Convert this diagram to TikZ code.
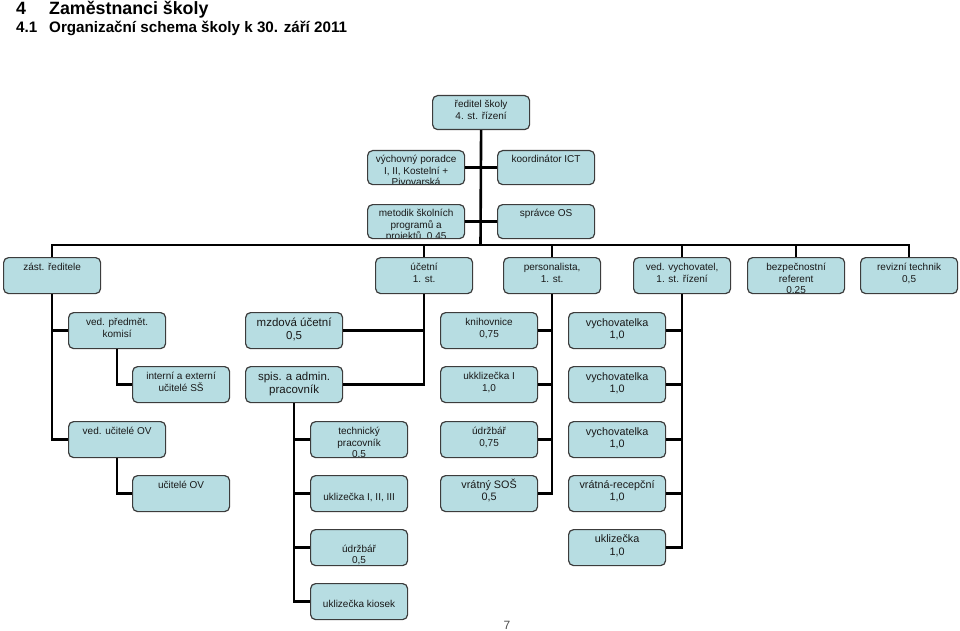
\documentclass[tikz,border=0pt]{standalone}
\usepackage{fontspec}
\setmainfont{Liberation Sans}
\definecolor{modra}{RGB}{183,221,226}
\definecolor{okraj}{RGB}{60,60,60}
\newcommand{\velke}{\fontsize{11.5}{13}\selectfont}
\newcommand{\stredni}{\fontsize{10.8}{12.4}\selectfont}
\newcommand{\karta}[4][13]{\node[karta, path picture={\node[popis] at ([yshift=-#1pt]path picture bounding box.north) {\parbox[t]{95pt}{\centering #4}};}] (#2) at (#3) {}}
\newcommand{\vetev}[2]{\draw[spoj] (#1) -- (#1 -| #2)}
\newcommand{\kmen}[2]{\draw[spoj] (#1) |- (#2)}
\tikzset{
	karta/.style={draw=okraj, line width=1.2pt, fill=modra, rounded corners=5pt,
		anchor=north west, minimum width=97pt, minimum height=36pt, inner sep=0pt},
	popis/.style={anchor=base, inner sep=0pt, font=\fontsize{10}{11.5}\selectfont, text=black!90},
	spoj/.style={line width=2.6pt, black},
	nadpis/.style={anchor=base west, inner sep=0pt, font=\bfseries\fontsize{17.8}{21}\selectfont},
	podnadpis/.style={anchor=base west, inner sep=0pt, font=\bfseries\fontsize{15.2}{18}\selectfont}
}

\begin{document}
\begin{tikzpicture}[x=1pt, y=-1pt]
	\useasboundingbox (0,0) rectangle (960,631);
%Headings
	\node[nadpis] (cislo) at (16,15) {4};
	\node[nadpis] (nazev) at (49,15) {Zaměstnanci školy};
	\node[podnadpis] (cislo2) at (16,33) {4.1};
	\node[podnadpis] (nazev2) at (49,33) {Organizační schema školy k 30. září 2011};
%Head of school
	\begin{scope}[karta/.append style={minimum height=34pt}]
	\karta[12]{reditel}{432,95}{ředitel školy\\4. st. řízení};
	\karta[12]{poradce}{367,150}{výchovný poradce\\I, II, Kostelní +\\Pivovarská};
	\karta[12]{koordinator}{497,150}{koordinátor ICT};
	\karta[12]{metodik}{367,204}{metodik školních\\programů a\\projektů, 0,45};
	\karta[12]{spravce}{497,204}{správce OS};
	\end{scope}
	\coordinate (bus) at (480.5,245);
%First row
	\karta{zast}{3,257}{zást. ředitele};
	\karta{ucetni}{375,257}{účetní\\1. st.};
	\karta{personalista}{503,257}{personalista,\\1. st.};
	\karta{vedvych}{633,257}{ved. vychovatel,\\1. st. řízení};
	\karta[13]{bezpecnost}{747,257}{bezpečnostní\\referent\\0,25};
	\karta{revizni}{860,257}{revizní technik\\0,5};
%Second row
	\karta{predmet}{68,312}{ved. předmět.\\komisí};
	\karta[14]{mzdova}{245,312}{\velke mzdová účetní\\0,5};
	\karta{knihovnice}{440,312}{knihovnice\\0,75};
	\karta[13.5]{vychovatelka1}{568,312}{\stredni vychovatelka\\1,0};
%Third row
	\karta{interni}{132,366}{interní a externí\\učitelé SŠ};
	\karta[13.5]{spis}{245,366}{\velke spis. a admin.\\pracovník};
	\karta{uklizecka1}{440,366}{ukklizečka I\\1,0};
	\karta[13.5]{vychovatelka2}{568,366}{\stredni vychovatelka\\1,0};
%Fourth row
	\karta{veducitele}{68,421}{ved. učitelé OV};
	\karta[13]{technicky}{310,421}{technický\\pracovník\\0,5};
	\karta{udrzbar1}{440,421}{údržbář\\0,75};
	\karta[13.5]{vychovatelka3}{568,421}{\stredni vychovatelka\\1,0};
%Fifth row
	\karta{ucitele}{132,475}{učitelé OV};
	\karta[24.5]{uklizecky}{310,475}{uklizečka I, II, III};
	\karta[12.5]{vratny}{440,475}{\stredni vrátný SOŠ\\0,5};
	\karta[12.5]{recepcni}{568,475}{\stredni vrátná-recepční\\1,0};
%Last rows
	\karta[22.5]{udrzbar2}{310,529}{údržbář\\0,5};
	\karta[13]{uklizecka2}{568,529}{\stredni uklizečka\\1,0};
	\karta[24]{kiosek}{310,583}{uklizečka kiosek};
%Connectors at the top
	\draw[spoj] (reditel.south) -- (bus);
	\vetev{poradce.east}{bus};
	\vetev{koordinator.west}{bus};
	\vetev{metodik.east}{bus};
	\vetev{spravce.west}{bus};
	\draw[spoj] (zast.north) |- (bus) -| (revizni.north);
	\foreach \n in {ucetni, personalista, vedvych, bezpecnost}
		\draw[spoj] (\n.north) -- (\n.north |- bus);
%Connectors below
	\kmen{zast.south}{veducitele.west};
	\vetev{predmet.west}{zast.south};
	\kmen{predmet.south}{interni.west};
	\kmen{veducitele.south}{ucitele.west};
	\kmen{ucetni.south}{spis.east};
	\vetev{mzdova.east}{ucetni.south};
	\kmen{spis.south}{kiosek.west};
	\foreach \n in {technicky, uklizecky, udrzbar2}
		\vetev{\n.west}{spis.south};
	\kmen{personalista.south}{vratny.east};
	\foreach \n in {knihovnice, uklizecka1, udrzbar1}
		\vetev{\n.east}{personalista.south};
	\kmen{vedvych.south}{uklizecka2.east};
	\foreach \n in {vychovatelka1, vychovatelka2, vychovatelka3, recepcni}
		\vetev{\n.east}{vedvych.south};
%Page number
	\node[font=\fontsize{12}{14}\selectfont, text=black!70] (strana) at (507,625) {7};
\end{tikzpicture}
\end{document}
